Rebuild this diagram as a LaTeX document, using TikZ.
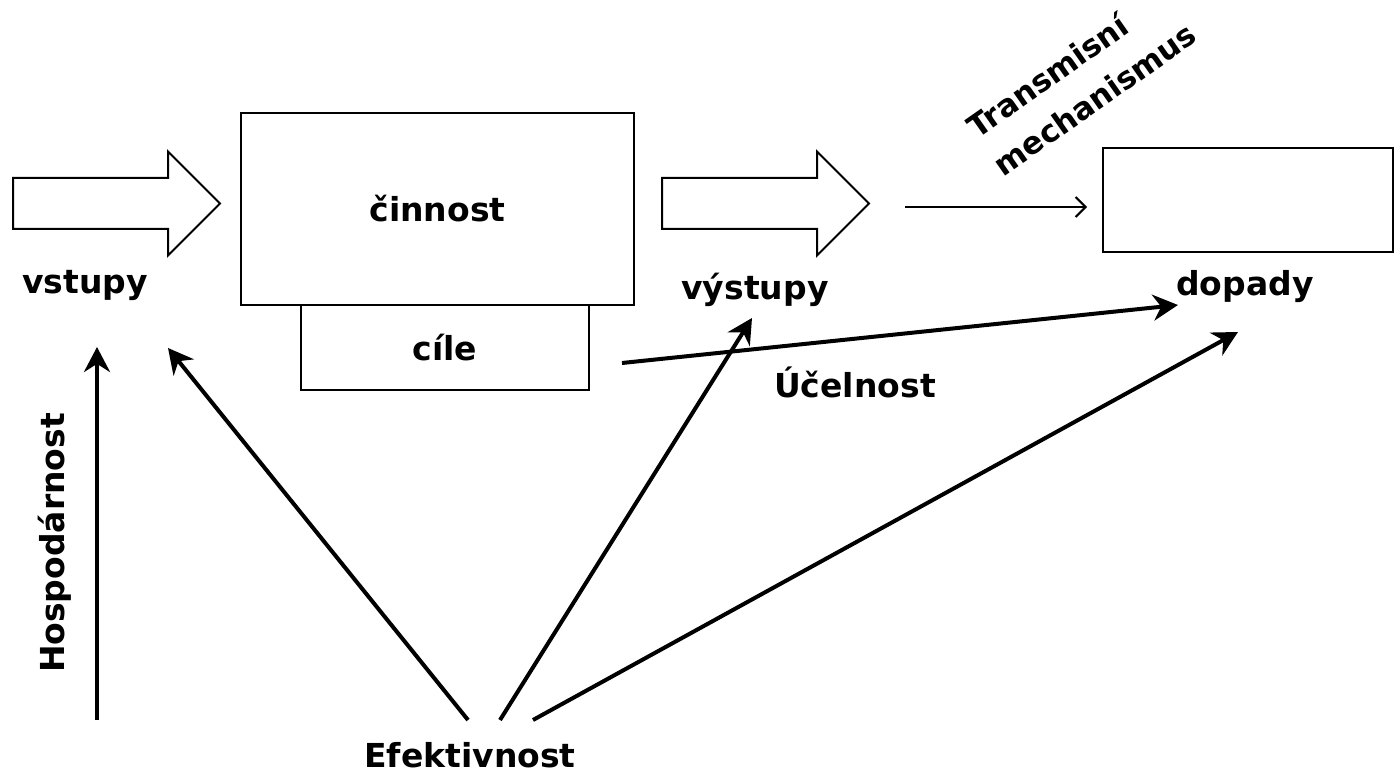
\documentclass[tikz,border=0pt]{standalone}
\usepackage{fontspec}
\setmainfont{DejaVu Sans}
\usetikzlibrary{arrows.meta,positioning}

\begin{document}
\begin{tikzpicture}[
  x=0.5pt, y=-0.5pt,
  lbl/.style={font=\fontsize{16.5}{20}\selectfont\bfseries, inner sep=0pt},
  box/.style={draw, line width=1pt, inner sep=0pt, font=\fontsize{16.5}{20}\selectfont\bfseries},
  thickarrow/.style={-{Stealth[length=12.5pt,width=13pt]}, line width=2pt},
  thinarrow/.style={-{Straight Barb[length=5pt,width=10pt]}, line width=1pt},
  blockarrow/.pic={
    \draw[line width=1pt, line join=miter]
      (0,-25.5) -- (155,-25.5) -- (155,-52) -- (207,0) -- (155,52)
      -- (155,25.5) -- (0,25.5) -- cycle;
  }
]
\useasboundingbox (0,0) rectangle (1395,774);

% block arrows
\pic at (13,203.5) {blockarrow};
\pic at (662,203.5) {blockarrow};

% boxes
\node[box, minimum width=196.5pt, minimum height=96pt] (cinnost) at (437.5,209) {činnost};
\node[box, minimum width=144pt, minimum height=42.5pt] (cile) at (445,347.5) {cíle};
\node[box, minimum width=145pt, minimum height=52pt] (dopadybox) at (1248,200) {};

% labels
\node[lbl] (vstupy) at (85,285) {vstupy};
\node[lbl] (vystupy) at (755,290) {výstupy};
\node[lbl] (dopady) at (1245,287) {dopady};
\node[lbl] (ucelnost) at (855,382) {Účelnost};
\node[lbl] (efektivnost) at (470,755) {Efektivnost};
\node[lbl, rotate=90] (hospodarnost) at (55,543) {Hospodárnost};
\node[lbl, font=\fontsize{15.5}{23}\selectfont\bfseries, rotate=35, align=left]
  (transmise) at (1081,80) {Transmisní\\mechanismus};

% connector ends
\coordinate (hosp-start) at (97,720);
\coordinate (hosp-end) at (97,347);
\coordinate (eff-l) at (468,720);
\coordinate (eff-m) at (500,720);
\coordinate (eff-r) at (533,720);
\coordinate (vstupy-end) at (168,348);
\coordinate (vystupy-end) at (752,318);
\coordinate (dopady-end) at (1238,332);
\coordinate (cile-start) at (622,363);
\coordinate (ucel-end) at (1178,305);
\coordinate (trans-start) at (905,207);

% connectors
\draw[thickarrow] (hosp-start) -- (hosp-end);
\draw[thickarrow] (eff-l) -- (vstupy-end);
\draw[thickarrow] (eff-m) -- (vystupy-end);
\draw[thickarrow] (eff-r) -- (dopady-end);
\draw[thickarrow] (cile-start) -- (ucel-end);
\draw[thinarrow] (trans-start) -- ([xshift=-7.5pt]dopadybox.west |- trans-start);
\end{tikzpicture}
\end{document}
